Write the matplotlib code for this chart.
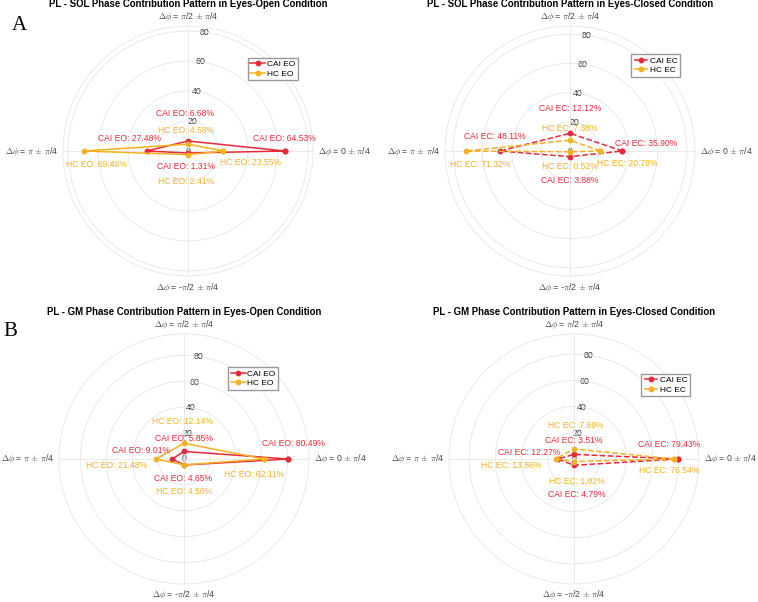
import numpy as np
import matplotlib.pyplot as plt

plt.rcParams['font.family'] = ['Liberation Sans', 'DejaVu Sans']
plt.rcParams['mathtext.fontset'] = 'cm'

# phase bins (deg) and their labels
angles_deg = [0, 90, 180, 270]
theta_labels = [r'$\Delta\phi$ = 0 $\pm$ $\pi$/4',
                r'$\Delta\phi$ = $\pi$/2 $\pm$ $\pi$/4',
                r'$\Delta\phi$ = $\pi$ $\pm$ $\pi$/4',
                r'$\Delta\phi$ = -$\pi$/2 $\pm$ $\pi$/4']
r_ticks = [0, 20, 40, 60, 80]

# contribution (%) per bin: 0, pi/2, pi, -pi/2
sol_eo_cai = [64.53, 6.68, 27.48, 1.31]
sol_eo_hc = [23.55, 4.58, 69.46, 2.41]
sol_ec_cai = [35.90, 12.12, 48.11, 3.88]
sol_ec_hc = [20.78, 7.38, 71.32, 0.52]
gm_eo_cai = [80.49, 5.85, 9.01, 4.65]
gm_eo_hc = [62.11, 12.14, 21.48, 4.56]
gm_ec_cai = [79.43, 3.51, 12.27, 4.79]
gm_ec_hc = [76.54, 7.69, 13.86, 1.92]

red = '#e8293b'
orange = '#f5b121'

# label offsets in pixels (per bin) for each panel / series
offs = {
    'sol_eo_cai': [(0, 13), (-3, 27), (-17, 13), (-2, -14)],
    'sol_eo_hc': [(27, -11), (-2, 14), (13, -13), (-2, -27)],
    'sol_ec_cai': [(24, 8), (0, 25), (-5, 15), (0, -24)],
    'sol_ec_hc': [(27, -12), (0, 12), (14, -13), (0, -15)],
    'gm_eo_cai': [(5, 15), (0, 13), (-31, 8), (-1, -13)],
    'gm_eo_hc': [(-10, -16), (-1, 22), (-40, -7), (0, -27)],
    'gm_ec_cai': [(-9, 14), (0, 14), (-29, 6), (3, -29)],
    'gm_ec_hc': [(-5, -12), (2, 23), (-45, -7), (3, -20)],
}
# theta label placement: offset (px), ha, va
theta_lab_pos = [((5, 0), 'left', 'center'), ((0, 10), 'center', 'center'),
                 ((-5, 0), 'right', 'center'), ((0, -11), 'center', 'center')]

panels = [
    # (rect, title, cai, hc, key, cond, dashed, legend anchor)
    ([0.0831, 0.5415, 0.3298, 0.4153], 'PL - SOL Phase Contribution Pattern in Eyes-Open Condition',
     sol_eo_cai, sol_eo_hc, 'sol_eo', 'EO', False, (0.327, 0.904)),
    ([0.5871, 0.5415, 0.3298, 0.4153], 'PL - SOL Phase Contribution Pattern in Eyes-Closed Condition',
     sol_ec_cai, sol_ec_hc, 'sol_ec', 'EC', True, (0.8325, 0.910)),
    ([0.0778, 0.0299, 0.3298, 0.4153], 'PL - GM Phase Contribution Pattern in Eyes-Open Condition',
     gm_eo_cai, gm_eo_hc, 'gm_eo', 'EO', False, (0.3008, 0.390)),
    ([0.5923, 0.0299, 0.3298, 0.4153], 'PL - GM Phase Contribution Pattern in Eyes-Closed Condition',
     gm_ec_cai, gm_ec_hc, 'gm_ec', 'EC', True, (0.8457, 0.379)),
]

fig = plt.figure(figsize=(7.58, 6.02), dpi=100)

theta = np.deg2rad(angles_deg)
theta_c = np.append(theta, theta[0])

for rect, title, cai, hc, key, cond, dashed, anchor in panels:
    ax = fig.add_axes(rect, projection='polar')
    ls = '--' if dashed else '-'
    ax.plot(theta_c, np.append(cai, cai[0]), ls, marker='o', color=red, lw=1.1, ms=3.2,
            label='CAI ' + cond)
    ax.plot(theta_c, np.append(hc, hc[0]), ls, marker='o', color=orange, lw=1.1, ms=3.2,
            label='HC ' + cond)
    rmax = 1.2 * max(max(cai), max(hc))
    ax.set_ylim(0, rmax)
    ax.set_thetagrids(angles_deg, [''] * 4)
    for t, lab, (o, ha, va) in zip(theta, theta_labels, theta_lab_pos):
        ax.annotate(lab, xy=(t, rmax), xytext=o, textcoords='offset pixels',
                    ha=ha, va=va, fontsize=6.3, color='#444444', annotation_clip=False)
    ax.set_rticks(r_ticks)
    ax.set_yticklabels([])
    for r in r_ticks:
        ax.text(np.deg2rad(82), r, str(r), fontsize=6.3, color='#333333',
                ha='center', va='center', zorder=1)
    ax.grid(color='#e6e6e6', lw=0.6)
    ax.spines['polar'].set_color('#e6e6e6')
    ax.spines['polar'].set_linewidth(0.6)

    for vals, col, nm in [(cai, red, 'CAI'), (hc, orange, 'HC')]:
        for t, v, o in zip(theta, vals, offs[key + '_' + nm.lower()]):
            ax.annotate(f'{nm} {cond}: {v:.2f}%', xy=(t, v), xytext=o,
                        textcoords='offset pixels', ha='center', va='center',
                        fontsize=6.2, color=col)

    ax.set_title(title, fontsize=6.9, fontweight='bold', y=1.088, pad=0, va='center')
    ax.legend(loc='upper left', bbox_to_anchor=anchor, bbox_transform=fig.transFigure,
              fontsize=6, frameon=True, fancybox=False, edgecolor='#999999',
              borderpad=0.3, labelspacing=0.2, handlelength=1.8, handletextpad=0.2,
              borderaxespad=0, framealpha=1)

fig.text(19 / 758, 1 - 26 / 602, 'A', family='Liberation Serif', fontsize=15,
         ha='center', va='center')
fig.text(10 / 758, 1 - 332 / 602, 'B', family='Liberation Serif', fontsize=15,
         ha='center', va='center')

fig.savefig('out.png', dpi=100)
